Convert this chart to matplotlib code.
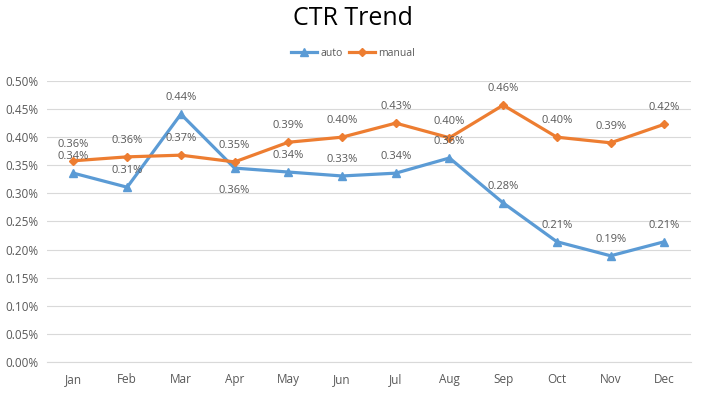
import matplotlib.pyplot as plt
from matplotlib.ticker import FuncFormatter

plt.rcParams['font.family'] = ['Open Sans', 'DejaVu Sans']

months = ['Jan', 'Feb', 'Mar', 'Apr', 'May', 'Jun', 'Jul', 'Aug', 'Sep', 'Oct', 'Nov', 'Dec']
auto = [0.336, 0.311, 0.441, 0.345, 0.338, 0.331, 0.336, 0.363, 0.283, 0.214, 0.189, 0.214]
manual = [0.358, 0.365, 0.368, 0.356, 0.391, 0.400, 0.425, 0.399, 0.457, 0.400, 0.390, 0.423]
auto_labels = ['0.34%', '0.31%', '0.44%', '0.36%', '0.34%', '0.33%', '0.34%', '0.36%',
               '0.28%', '0.21%', '0.19%', '0.21%']
manual_labels = ['0.36%', '0.36%', '0.37%', '0.35%', '0.39%', '0.40%', '0.43%', '0.40%',
                 '0.46%', '0.40%', '0.39%', '0.42%']
auto_below = ['Apr']

blue = '#5b9bd5'
orange = '#ed7d31'
txt = '#595959'

fig = plt.figure(figsize=(7.06, 3.95), dpi=100)
ax = fig.add_axes([0.066, 0.0835, 0.913, 0.7115])

x = list(range(len(months)))
ax.plot(x, auto, color=blue, lw=2.3, marker='^', ms=6, label='auto', zorder=3)
ax.plot(x, manual, color=orange, lw=2.3, marker='D', ms=4, label='manual', zorder=3)

for i, m in enumerate(months):
    dy = -16 if m in auto_below else 12
    ax.annotate(auto_labels[i], (x[i], auto[i]), xytext=(0, dy), textcoords='offset points',
                ha='center', va='center', fontsize=8, color=txt)
    ax.annotate(manual_labels[i], (x[i], manual[i]), xytext=(0, 12), textcoords='offset points',
                ha='center', va='center', fontsize=8, color=txt)

ax.set_xlim(-0.5, 11.5)
ax.set_ylim(0, 0.5)
ax.set_yticks([i * 0.05 for i in range(11)])
ax.yaxis.set_major_formatter(FuncFormatter(lambda v, p: f'{v:.2f}%'))
ax.set_xticks(x)
ax.set_xticklabels(months)
ax.tick_params(axis='both', length=0, labelsize=8.5, colors=txt)
ax.tick_params(axis='x', pad=8)
ax.tick_params(axis='y', pad=6)
ax.grid(axis='y', color='#d9d9d9', lw=0.8)
ax.set_axisbelow(True)
for s in ['top', 'right', 'left']:
    ax.spines[s].set_visible(False)
ax.spines['bottom'].set_color('#d9d9d9')

fig.suptitle('CTR Trend', y=0.985, fontsize=18, color='black')
fig.legend(loc='center', bbox_to_anchor=(0.5, 0.865), ncol=2, frameon=False, fontsize=7.5,
           handlelength=2.5, columnspacing=0.6, handletextpad=0.3, labelcolor=txt)

fig.savefig('out.png', dpi=100)
